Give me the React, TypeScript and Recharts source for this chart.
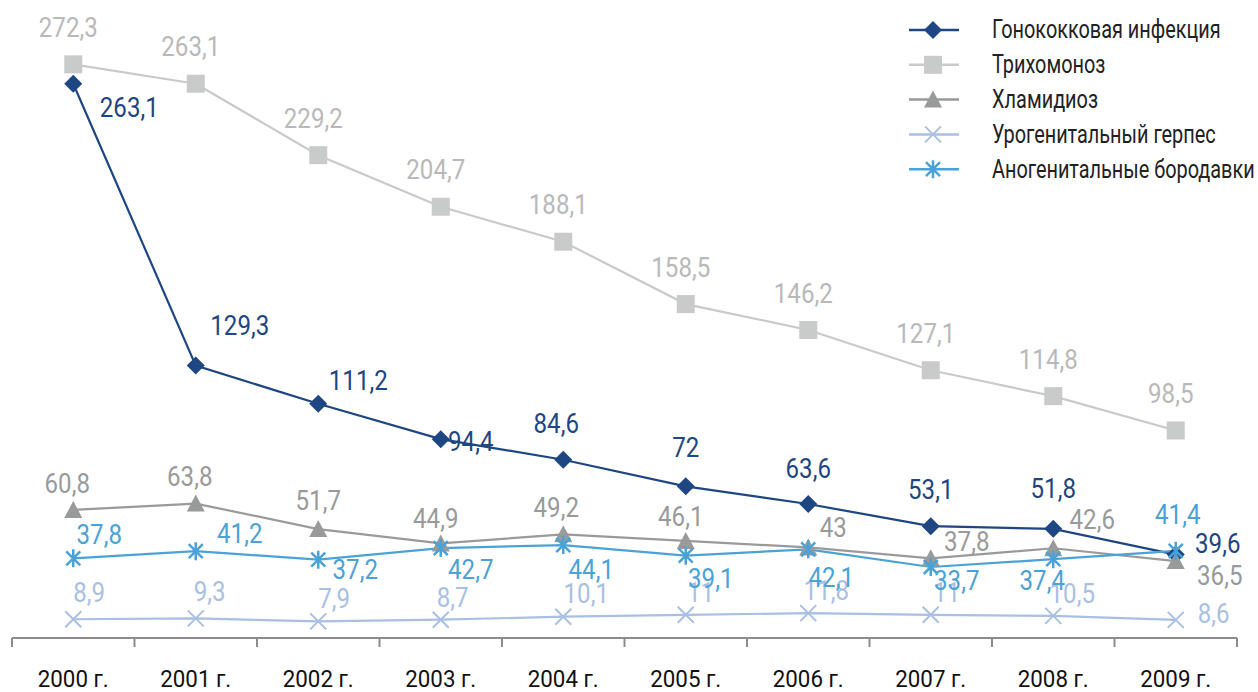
import React from 'react'
import { LabelList, Line, LineChart, XAxis, YAxis } from 'recharts'

const years = ['2000 г.', '2001 г.', '2002 г.', '2003 г.', '2004 г.', '2005 г.', '2006 г.', '2007 г.', '2008 г.', '2009 г.']
const gonococcal = [263.1, 129.3, 111.2, 94.4, 84.6, 72, 63.6, 53.1, 51.8, 39.6]
const trichomoniasis = [272.3, 263.1, 229.2, 204.7, 188.1, 158.5, 146.2, 127.1, 114.8, 98.5]
const chlamydia = [60.8, 63.8, 51.7, 44.9, 49.2, 46.1, 43, 37.8, 42.6, 36.5]
const herpes = [8.9, 9.3, 7.9, 8.7, 10.1, 11, 11.8, 11, 10.5, 8.6]
const warts = [37.8, 41.2, 37.2, 42.7, 44.1, 39.1, 42.1, 33.7, 37.4, 41.4]

const FONT = 'Roboto, "Noto Sans", sans-serif'
const W = 1258
const H = 692
const LEFT = 12
const RIGHT = 21
const BAND = (W - LEFT - RIGHT) / years.length

type Shape = 'diamond' | 'square' | 'triangle' | 'cross' | 'star'

// label offsets from the point (text centre), per series
const labelShift: Record<string, [number, number][]> = {
  gon: [[56, 24], [44, -40], [40, -23], [30, 2], [-7, -36], [0, -39], [0, -36], [0, -37], [0, -41], [42, -11]],
  tri: Array(10).fill([-5, -37]),
  chl: [[-6, -27], [-6, -27], [0, -29], [-5, -25], [-7, -27], [-5, -25], [25, -20], [36, -17], [39, -29], [44, 14]],
  her: [[16, -27], [14, -27], [16, -23], [12, -22], [23, -23], [15, -22], [18, -23], [16, -22], [19, -23], [38, -7]],
  war: [[26, -24], [44, -18], [37, 10], [30, 21], [28, 24], [25, 23], [23, 28], [26, 13], [-11, 21], [2, -36]],
}

const series: { key: string; name: string; color: string; label: string; shape: Shape }[] = [
  { key: 'gon', name: 'Гонококковая инфекция', color: '#1d4683', label: '#1d4683', shape: 'diamond' },
  { key: 'tri', name: 'Трихомоноз', color: '#c9caca', label: '#b9b9b9', shape: 'square' },
  { key: 'chl', name: 'Хламидиоз', color: '#999a9a', label: '#999a9a', shape: 'triangle' },
  { key: 'her', name: 'Урогенитальный герпес', color: '#a9bfe4', label: '#a9bfe4', shape: 'cross' },
  { key: 'war', name: 'Аногенитальные бородавки', color: '#4ba2d6', label: '#4ba2d6', shape: 'star' },
]

const data = years.map((year, i) => ({
  year,
  gon: gonococcal[i],
  tri: trichomoniasis[i],
  chl: chlamydia[i],
  her: herpes[i],
  war: warts[i],
}))

// narrow text: Roboto squeezed horizontally
function NarrowText(props: {
  x: number
  y: number
  sx: number
  size: number
  fill: string
  anchor?: 'start' | 'middle' | 'end'
  baseline?: string
  children: React.ReactNode
}) {
  const { x, y, sx, size, fill, anchor = 'middle', baseline = 'central', children } = props
  return (
    <text
      transform={`translate(${x},${y}) scale(${sx},1)`}
      textAnchor={anchor}
      dominantBaseline={baseline}
      fontSize={size}
      fill={fill}
      fontFamily={FONT}
    >
      {children}
    </text>
  )
}

function Marker({ cx, cy, shape, color }: { cx: number; cy: number; shape: Shape; color: string }) {
  if (shape === 'diamond') {
    return <path d={`M${cx},${cy - 9}L${cx + 9},${cy}L${cx},${cy + 9}L${cx - 9},${cy}Z`} fill={color} />
  }
  if (shape === 'square') {
    return <rect x={cx - 9} y={cy - 9} width={18} height={18} fill={color} />
  }
  if (shape === 'triangle') {
    return <path d={`M${cx},${cy - 9}L${cx + 9},${cy + 8}L${cx - 9},${cy + 8}Z`} fill={color} />
  }
  if (shape === 'cross') {
    return (
      <path d={`M${cx - 8},${cy - 8}L${cx + 8},${cy + 8}M${cx + 8},${cy - 8}L${cx - 8},${cy + 8}`} stroke={color} strokeWidth={2} />
    )
  }
  return (
    <path
      d={`M${cx - 7},${cy - 7}L${cx + 7},${cy + 7}M${cx + 7},${cy - 7}L${cx - 7},${cy + 7}M${cx},${cy - 9}L${cx},${cy + 9}`}
      stroke={color}
      strokeWidth={2.5}
    />
  )
}

const fmt = (v: number) => String(v).replace('.', ',')

function YearTick(props: any) {
  const { x, y, payload, index } = props
  const last = index === years.length - 1
  return (
    <g>
      <line x1={x - BAND / 2} y1={y} x2={x - BAND / 2} y2={y + 9} stroke="#8c8c8c" strokeWidth={2} />
      {last && <line x1={x + BAND / 2} y1={y} x2={x + BAND / 2} y2={y + 9} stroke="#8c8c8c" strokeWidth={2} />}
      <NarrowText x={x} y={y + 49} sx={0.93} size={24} fill="#111" baseline="alphabetic">
        {payload.value}
      </NarrowText>
    </g>
  )
}

function LegendBox() {
  return (
    <svg width={360} height={190} style={{ position: 'absolute', left: 898, top: 0 }}>
      {series.map((s, i) => {
        const cy = 30 + i * 34.8
        return (
          <g key={s.key}>
            <line x1={11} y1={cy} x2={61} y2={cy} stroke={s.color} strokeWidth={2.5} />
            <Marker cx={35} cy={cy} shape={s.shape} color={s.color} />
            <NarrowText x={94} y={cy} sx={0.765} size={26} fill="#222" anchor="start">
              {s.name}
            </NarrowText>
          </g>
        )
      })}
    </svg>
  )
}

export default function App() {
  return (
    <div style={{ position: 'absolute', left: 0, top: 0, width: W, height: H, background: '#fff' }}>
      <LineChart width={W} height={H} data={data} margin={{ top: 6, right: RIGHT, bottom: 0, left: LEFT }}>
        <XAxis
          dataKey="year"
          height={54}
          padding={{ left: BAND / 2, right: BAND / 2 }}
          axisLine={{ stroke: '#8c8c8c', strokeWidth: 2 }}
          tickLine={false}
          tickSize={0}
          tickMargin={0}
          interval={0}
          tick={<YearTick />}
        />
        <YAxis hide domain={[0, 300]} />
        {series.map((s) => (
          <Line
            key={s.key}
            dataKey={s.key}
            name={s.name}
            stroke={s.color}
            strokeWidth={2.2}
            isAnimationActive={false}
            dot={(p: any) => <Marker key={`${s.key}-${p.index}`} cx={p.cx} cy={p.cy} shape={s.shape} color={s.color} />}
            activeDot={false}
          >
            <LabelList
              dataKey={s.key}
              content={(p: any) => {
                const [dx, dy] = labelShift[s.key][p.index] || [0, -30]
                return (
                  <NarrowText x={p.x + dx} y={p.y + dy} sx={0.86} size={28} fill={s.label}>
                    {fmt(p.value)}
                  </NarrowText>
                )
              }}
            />
          </Line>
        ))}
      </LineChart>
      <LegendBox />
    </div>
  )
}
